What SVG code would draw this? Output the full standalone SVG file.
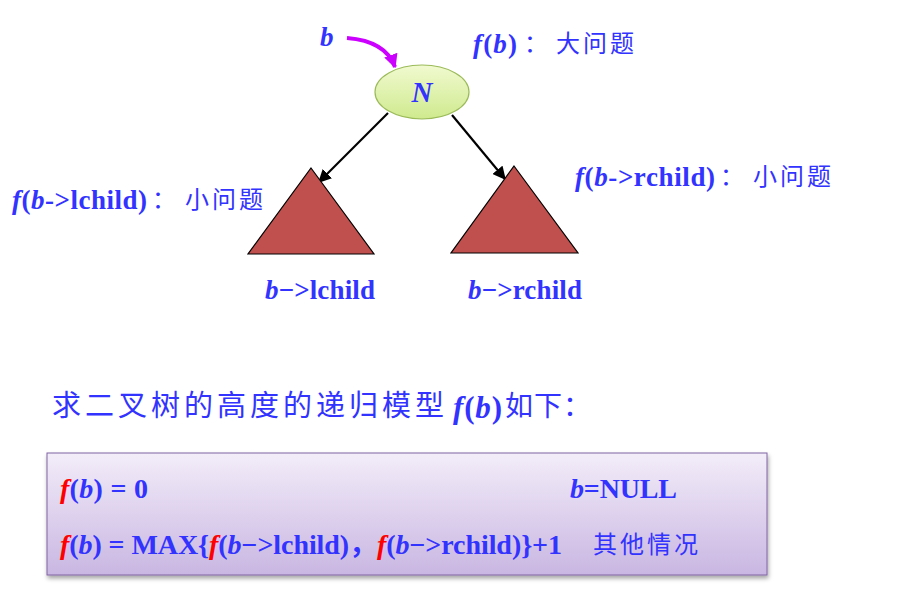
<svg xmlns="http://www.w3.org/2000/svg" width="912" height="591" viewBox="0 0 912 591">
<defs>
<style>
.t{font-family:"Liberation Serif","Noto Sans CJK SC",serif;font-weight:bold;fill:#3333FF;}
.cj{font-family:"Noto Sans CJK SC",sans-serif;font-weight:normal;fill:#3333FF;}
.i{font-style:italic;}
.r{fill:#FF0000;}
.tri{fill:#C0504D;stroke:#000;stroke-width:1.2;}
.edge{stroke:#000;stroke-width:2.2;fill:none;}
</style>
<linearGradient id="gN" x1="0" y1="0" x2="0" y2="1">
<stop offset="0" stop-color="#F1FAD0"/>
<stop offset="1" stop-color="#CFEA8E"/>
</linearGradient>
<linearGradient id="gBox" x1="0" y1="0" x2="0" y2="1">
<stop offset="0" stop-color="#F3EDF9"/>
<stop offset="1" stop-color="#C9B6E2"/>
</linearGradient>
<filter id="sh" x="-5%" y="-10%" width="110%" height="130%">
<feDropShadow dx="1" dy="3" stdDeviation="2" flood-color="#000" flood-opacity="0.35"/>
</filter>
<marker id="ah" viewBox="0 0 10 10" refX="9" refY="5" markerWidth="6" markerHeight="6" orient="auto" markerUnits="strokeWidth">
<path d="M0,0 L10,5 L0,10 z" fill="#000"/>
</marker>
<marker id="ahm" viewBox="0 0 10 10" refX="9" refY="5" markerWidth="3.5" markerHeight="3.5" orient="auto" markerUnits="strokeWidth">
<path d="M0,0 L10,5 L0,10 z" fill="#CC00FF"/>
</marker>
</defs>

<g id="connectors">
<path d="M347,38 C372,40 389,50 395,67" stroke="#CC00FF" stroke-width="4" fill="none" marker-end="url(#ahm)"/>
<line class="edge" x1="388" y1="113" x2="319" y2="182" marker-end="url(#ah)"/>
<line class="edge" x1="452" y1="115" x2="505" y2="179" marker-end="url(#ah)"/>
</g>

<g id="label-b">
<text class="t i" x="320" y="46" font-size="27">b</text>
</g>

<g id="node-N">
<ellipse cx="422" cy="92" rx="47" ry="27" fill="url(#gN)" stroke="#9BBB59" stroke-width="1.2"/>
<text class="t i" x="422" y="102" font-size="29" text-anchor="middle">N</text>
</g>

<g id="label-fb">
<text class="t" x="473" y="53" font-size="27" textLength="44"><tspan class="i">f</tspan>(<tspan class="i">b</tspan>)</text>
<text class="cj" x="524" y="52" font-size="24">：</text>
<text class="cj" x="556" y="52" font-size="24" letter-spacing="3">大问题</text>
</g>

<g id="node-lchild">
<polygon class="tri" points="311,168 374,254 248,254"/>
<text class="t" x="265" y="299" font-size="27" textLength="110"><tspan class="i">b</tspan>−&gt;lchild</text>
</g>

<g id="node-rchild">
<polygon class="tri" points="514,166 578,253 451,253"/>
<text class="t" x="468" y="299" font-size="27" textLength="114"><tspan class="i">b</tspan>−&gt;rchild</text>
</g>

<g id="label-left">
<text class="t" x="12" y="209" font-size="27" textLength="135"><tspan class="i">f</tspan>(<tspan class="i">b</tspan>-&gt;lchild)</text>
<text class="cj" x="152" y="208" font-size="24">：</text>
<text class="cj" x="185" y="208" font-size="24" letter-spacing="3">小问题</text>
</g>

<g id="label-right">
<text class="t" x="575" y="186" font-size="27" textLength="140"><tspan class="i">f</tspan>(<tspan class="i">b</tspan>-&gt;rchild)</text>
<text class="cj" x="720" y="185" font-size="24">：</text>
<text class="cj" x="753" y="185" font-size="24" letter-spacing="3">小问题</text>
</g>

<g id="title">
<text class="cj" x="52" y="416" font-size="29" letter-spacing="4">求二叉树的高度的递归模型</text>
<text class="t" x="453" y="418" font-size="31" textLength="49"><tspan class="i">f</tspan>(<tspan class="i">b</tspan>)</text>
<text class="cj" x="505" y="416" font-size="28" letter-spacing="1">如下：</text>
</g>

<g id="formula-box">
<rect x="47" y="453" width="720" height="122" fill="url(#gBox)" stroke="#8064A2" stroke-width="1" filter="url(#sh)"/>
<text class="t" x="60" y="498" font-size="28" textLength="88"><tspan class="i r">f</tspan>(<tspan class="i">b</tspan>) = 0</text>
<text class="t" x="570" y="498" font-size="28" textLength="107"><tspan class="i">b</tspan>=NULL</text>
<text class="t" x="60" y="554" font-size="28" textLength="502"><tspan class="i r">f</tspan>(<tspan class="i">b</tspan>) = MAX{<tspan class="i r">f</tspan>(<tspan class="i">b</tspan>−&gt;lchild)，<tspan class="i r">f</tspan>(<tspan class="i">b</tspan>−&gt;rchild)}+1</text>
<text class="cj" x="593" y="553" font-size="24" letter-spacing="3">其他情况</text>
</g>
</svg>
